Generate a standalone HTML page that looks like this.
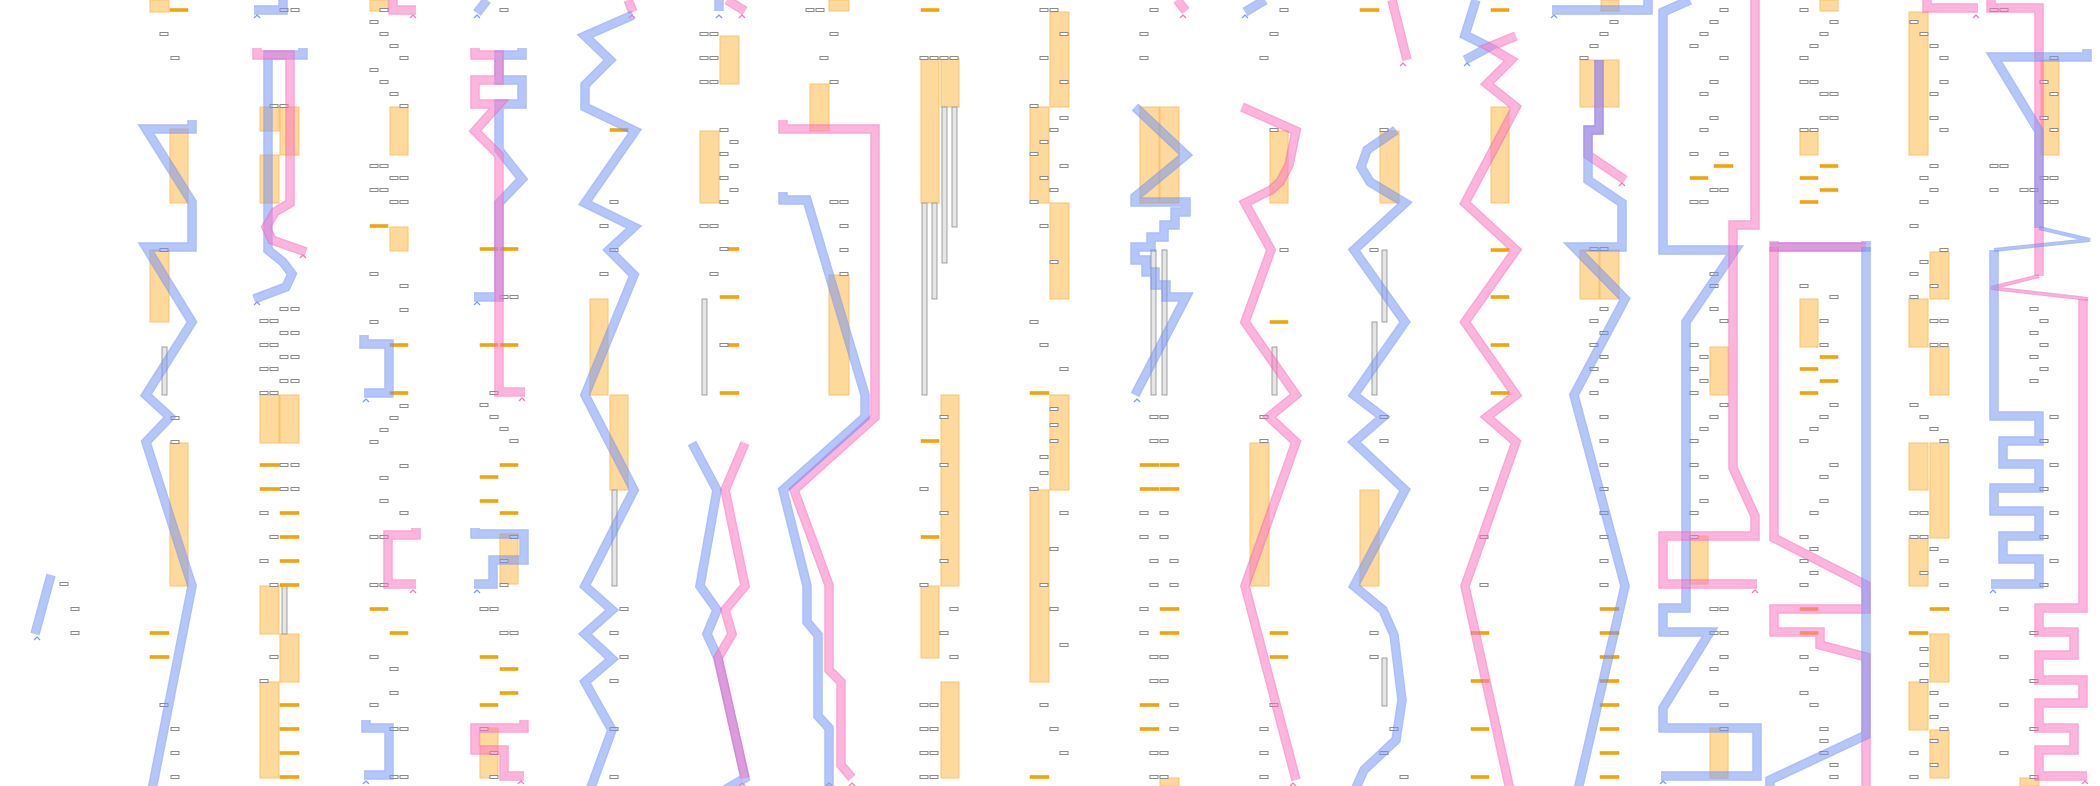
<!DOCTYPE html>
<html><head><meta charset="utf-8"><style>
html,body{margin:0;padding:0;background:#fff;width:2100px;height:786px;overflow:hidden}
svg{display:block}
</style></head><body>
<svg id="s" xmlns="http://www.w3.org/2000/svg" width="2100" height="786" viewBox="0 0 2100 786">
<g id="bg"></g><g id="fg"></g><g id="ln"></g><g id="ar"></g>
</svg>
<script>
var NS="http://www.w3.org/2000/svg";
function el(p,t,a){var e=document.createElementNS(NS,t);for(var k in a)e.setAttribute(k,a[k]);document.getElementById(p).appendChild(e);return e;}
function o(x1,y1,x2,y2){el('bg','rect',{x:x1,y:y1,width:x2-x1,height:y2-y1,fill:'#fdd797',stroke:'#f7c46f','stroke-width':1,'fill-opacity':0.95});}
function d(x1,x2,y){el('fg','rect',{x:x1,y:y-1.5,width:x2-x1,height:3,fill:'#f5a400',stroke:'#e89a00','stroke-width':0.5});}
function g(x,y){el('fg','rect',{x:x-4,y:y-1.5,width:8,height:3,fill:'#fff',stroke:'#8a8a8a','stroke-width':1});}
function G(ys,xs){ys.forEach(function(p){g(p[0],p[1]);});}
function r(x,y1,y2){el('bg','rect',{x:x,y:y1,width:5,height:y2-y1,fill:'#e6e6e6',stroke:'#8a8a8a','stroke-width':0.8});}
function L(c,pts,w){w=w||8;var s=pts.map(function(p){return p.join(',')}).join(' ');
 var col=c=='b'?['#6a8cf0','#7a98f6']:['#f060b8','#ff77c4'];
 var gg=el('ln','g',{opacity:0.55});
 var a=document.createElementNS(NS,'polyline');a.setAttribute('points',s);a.setAttribute('fill','none');a.setAttribute('stroke',col[0]);a.setAttribute('stroke-width',w+1.5);a.setAttribute('stroke-linejoin','miter');a.setAttribute('stroke-miterlimit',3);gg.appendChild(a);
 var b=document.createElementNS(NS,'polyline');b.setAttribute('points',s);b.setAttribute('fill','none');b.setAttribute('stroke',col[1]);b.setAttribute('stroke-width',Math.max(w-1.5,1));b.setAttribute('stroke-linejoin','miter');b.setAttribute('stroke-miterlimit',3);gg.appendChild(b);}
function A(c,x,y){el('ar','polyline',{points:(x-3)+','+(y+3)+' '+x+','+y+' '+(x+3)+','+(y+3),fill:'none',stroke:c=='b'?'#7f9cf2':'#f07ac4','stroke-width':1.3});}

/* Column A */
L('b',[[51,575],[35,634]]);A('b',37,637);G([[64,584],[75,609],[75,633]]);
/* Column B */
o(150,0,169,12);o(170,129,188,203);o(150,250,169,322);o(170,443,188,586);
d(170,188,10);d(150,169,633);d(150,169,657);r(162,347,395);
G([[164,34],[175,58],[164,250],[175,418],[175,442],[164,705],[175,729],[175,753],[175,777]]);
L('b',[[192,120],[192,129],[146,129],[192,202],[192,247],[146,247],[192,322],[146,395],[170,417],[146,442],[192,586],[152,790]]);
/* Column C */
L('b',[[283,0],[283,10],[254,10]]);A('b',257,15);G([[284,10],[295,10]]);
o(260,107,279,131);o(280,107,299,155);o(260,155,279,203);o(260,395,279,443);o(280,395,299,443);o(260,586,279,634);o(280,634,299,682);o(260,682,279,778);
d(260,279,465);d(260,279,489);[513,537,561,585,705,729,753,777].forEach(function(y){d(280,299,y)});
r(282,586,634);
G([[274,106],[284,106],[284,309],[295,309],[264,321],[274,321],[284,333],[295,333],[264,345],[274,345],[284,357],[295,357],[264,369],[274,369],[284,381],[295,381],[264,393],[274,393],[284,465],[295,465],[284,489],[295,489],[264,513],[274,537],[264,561],[274,585],[274,657],[264,681]]);
L('b',[[303,48],[303,55],[268,55],[268,250],[283,262],[292,274],[286,287],[254,299]]);A('b',257,302);
L('p',[[257,48],[257,55],[290,55],[290,203],[275,212],[266,227],[272,240],[306,252]]);A('p',303,255);
/* Column D */
o(370,0,388,11);o(390,107,408,155);o(390,227,408,251);
d(370,388,226);d(390,408,345);d(390,408,393);d(370,388,609);d(390,408,633);
G([[384,10],[374,22],[384,34],[394,46],[404,58],[374,70],[384,82],[394,94],[404,106],[374,166],[384,166],[394,178],[404,178],[374,190],[384,190],[394,202],[404,202],[374,274],[404,286],[404,310],[374,322],[404,406],[394,418],[384,430],[374,442],[404,466],[384,478],[384,501],[404,513],[374,537],[384,537],[374,585],[384,585],[374,657],[394,669],[394,693],[374,705],[394,729],[404,729],[394,777],[404,777]]);
L('p',[[393,0],[393,10],[416,10]]);A('p',413,15);
L('b',[[364,335],[364,344],[389,344],[389,393],[364,393]]);A('b',366,399);
L('p',[[416,528],[416,535],[388,535],[388,584],[416,584]]);A('p',413,590);
L('b',[[366,720],[366,728],[389,728],[389,775],[364,775]]);A('b',366,781);
/* Column E */
L('b',[[487,0],[477,13]]);A('b',477,15);g(504,10);
o(500,534,518,584);o(480,728,498,778);
d(480,498,249);d(500,518,249);d(480,498,345);d(500,518,345);
d(500,518,465);d(480,498,477);d(480,498,501);d(500,518,513);d(480,498,657);d(500,518,669);d(500,518,693);d(480,498,705);
G([[504,297],[514,297],[494,393],[484,405],[494,417],[504,429],[514,441],[514,537],[504,561],[504,585],[484,609],[494,609],[504,633],[514,633],[484,729],[494,753],[494,777]]);
L('b',[[522,48],[522,55],[499,55],[499,80],[522,80],[522,104],[499,104],[499,150],[522,179],[499,203],[499,297],[474,297]]);A('b',477,302);
L('p',[[475,48],[475,55],[499,55],[499,80],[475,80],[475,104],[499,104],[475,131],[499,155],[499,392],[525,392]]);A('p',522,398);
L('b',[[475,528],[475,534],[524,534],[524,560],[493,560],[493,584],[474,584]]);A('b',477,590);
L('p',[[524,720],[524,728],[475,728],[475,750],[504,750],[504,776],[524,776]]);A('p',521,781);
/* Column F */
o(590,299,608,395);o(610,395,628,490);d(610,628,130);r(612,490,586);
G([[614,202],[604,226],[614,250],[604,274],[624,609],[614,633],[624,657],[614,681],[614,729],[614,777]]);
L('p',[[628,0],[633,12]]);A('p',632,15);
L('b',[[633,15],[585,36],[610,60],[585,85],[585,107],[635,131],[585,203],[634,227],[609,250],[634,275],[585,395],[634,490],[585,586],[612,610],[585,634],[612,659],[585,682],[612,730],[590,790]]);
/* Column G */
L('b',[[719,0],[719,11]]);A('b',719,15);L('p',[[727,0],[745,11]]);A('p',742,15);
o(720,36,739,84);o(700,131,719,203);r(702,299,395);
G([[704,34],[714,34],[704,58],[714,58],[704,82],[714,82],[724,130],[734,142],[724,154],[734,166],[724,178],[734,190],[724,202],[704,226],[714,226],[714,274]]);
d(720,739,249);d(720,739,297);d(720,739,345);d(720,739,393);g(724,249);g(724,345);
L('b',[[692,443],[717,490],[700,586],[717,610],[707,634],[718,658],[745,778],[725,790]]);
L('p',[[745,443],[725,490],[745,586],[725,610],[732,634],[718,658],[745,778]]);A('p',742,783);
/* Column H */
o(829,0,849,11);o(810,84,829,131);o(829,275,849,395);
G([[810,10],[820,10],[834,34],[824,58],[834,82],[834,202],[844,202],[844,226],[844,250],[844,274]]);
L('p',[[783,120],[783,129],[875,129],[875,417],[794,490],[829,585],[829,670],[841,682],[841,765],[852,778]]);A('p',852,783);
L('b',[[783,192],[783,200],[807,200],[865,395],[865,417],[783,490],[807,586],[807,622],[818,635],[818,716],[829,728],[829,786]]);A('b',829,783);
/* Column I */
d(921,939,10);o(921,58,939,203);o(941,58,959,107);r(922,203,395);r(932,203,299);r(942,107,263);r(952,107,227);
G([[924,58],[934,58],[944,58],[954,58],[944,417],[924,489],[944,465],[944,513],[944,561],[924,585],[954,609],[944,633],[954,657],[924,705],[934,705],[924,729],[934,729],[924,753],[934,753],[924,777],[934,777]]);
o(941,395,959,586);d(921,939,441);d(921,939,537);o(921,586,939,658);o(941,682,959,778);
/* Column J */
o(1050,12,1069,107);o(1030,107,1049,203);o(1050,203,1069,299);o(1050,395,1069,490);o(1030,490,1049,682);
d(1030,1049,393);d(1030,1049,777);
G([[1044,10],[1054,10],[1064,34],[1044,58],[1064,82],[1034,106],[1064,118],[1054,130],[1044,142],[1034,154],[1064,166],[1044,178],[1054,190],[1034,202],[1044,226],[1054,262],[1034,322],[1044,345],[1064,369],[1054,409],[1054,425],[1054,441],[1044,457],[1044,473],[1034,489],[1064,513],[1054,549],[1044,585],[1054,609],[1064,645],[1044,705],[1054,729],[1064,753]]);
/* Column K */
o(1140,107,1159,203);o(1160,107,1179,203);r(1151,250,395);r(1162,250,395);o(1160,778,1179,786);
G([[1154,10],[1144,34],[1144,58],[1154,417],[1164,417],[1154,441],[1164,441],[1144,513],[1164,513],[1144,537],[1164,537],[1154,561],[1174,561],[1154,585],[1174,585],[1144,609],[1144,633],[1154,657],[1164,657],[1154,681],[1164,681],[1174,705],[1174,729],[1154,753],[1164,753],[1154,777],[1164,777]]);
d(1140,1159,465);d(1160,1179,465);d(1140,1159,489);d(1160,1179,489);d(1160,1179,609);d(1160,1179,633);d(1140,1159,705);d(1140,1159,729);
L('b',[[1135,107],[1186,155],[1135,197],[1135,202],[1186,202],[1186,212],[1175,212],[1175,225],[1164,225],[1164,237],[1151,237],[1151,247],[1135,247],[1135,260],[1146,260],[1146,272],[1155,272],[1155,285],[1166,285],[1166,297],[1186,297],[1135,395]]);A('b',1137,399);
/* Column L */
L('b',[[1265,0],[1245,12]]);A('b',1245,15);L('p',[[1177,0],[1186,11]]);A('p',1183,15);
G([[1284,10],[1274,34],[1264,58],[1274,130],[1284,250],[1264,417],[1264,441],[1274,705],[1264,729],[1264,753],[1264,777]]);
o(1270,131,1288,203);d(1270,1288,322);r(1272,347,395);o(1250,443,1269,586);d(1270,1288,633);d(1270,1288,657);
L('p',[[1242,107],[1296,131],[1289,165],[1280,182],[1271,190],[1245,203],[1271,250],[1245,322],[1296,395],[1269,417],[1296,442],[1245,586],[1296,780]]);A('p',1293,783);
/* Column M */
d(1360,1379,10);o(1380,131,1399,203);o(1360,490,1379,586);r(1382,250,322);r(1372,322,395);r(1382,658,706);
G([[1384,130],[1374,250],[1384,417],[1384,441],[1374,633],[1374,657],[1394,729],[1384,753],[1404,777]]);
L('p',[[1392,0],[1407,60]]);A('p',1403,63);
L('b',[[1396,130],[1367,150],[1361,167],[1370,182],[1405,203],[1354,250],[1405,322],[1354,395],[1383,417],[1354,442],[1405,490],[1354,586],[1383,610],[1394,635],[1402,700],[1396,740],[1364,770],[1355,790]]);
/* Column N */
L('b',[[1476,0],[1465,35],[1489,47],[1465,60]]);A('b',1467,63);
o(1491,107,1509,203);[10,250,297,345,393].forEach(function(y){d(1491,1509,y)});[633,681,729,777].forEach(function(y){d(1471,1489,y)});
G([[1484,441],[1484,489],[1484,537],[1484,585]]);
L('p',[[1516,36],[1489,47],[1511,60],[1487,84],[1516,107],[1465,203],[1516,250],[1465,322],[1516,395],[1487,417],[1516,442],[1465,586],[1510,790]]);
/* Column O */
o(1601,0,1619,11);o(1580,60,1619,107);o(1580,250,1599,299);o(1600,250,1619,299);
G([[1614,22],[1604,34],[1594,46],[1584,58],[1594,249],[1604,249],[1604,309],[1594,321],[1604,333],[1594,345],[1604,357],[1594,369],[1604,381],[1594,393],[1604,417],[1604,441],[1604,465],[1604,489],[1604,513],[1604,537],[1604,561],[1604,585]]);
[609,633,657,681,705,729,753,777].forEach(function(y){d(1600,1619,y)});
L('b',[[1648,0],[1648,10],[1552,10]]);A('b',1554,15);
L('p',[[1599,60],[1599,130],[1588,130],[1588,155],[1625,180]]);A('p',1622,183);
L('b',[[1599,60],[1599,130],[1588,130],[1588,180],[1622,203],[1622,247],[1574,247],[1625,299],[1574,395],[1625,586],[1578,790]]);
/* Column P */
o(1710,347,1728,395);o(1690,536,1708,584);o(1710,728,1728,778);
d(1714,1733,166);d(1690,1708,178);
G([[1724,10],[1714,22],[1704,34],[1694,46],[1724,58],[1714,82],[1704,94],[1714,118],[1704,130],[1694,154],[1724,154],[1714,190],[1724,190],[1694,202],[1704,202],[1714,274],[1714,286],[1714,309],[1724,321],[1694,345],[1704,357],[1694,369],[1704,381],[1694,393],[1724,405],[1714,417],[1704,429],[1694,441],[1694,465],[1704,477],[1704,501],[1694,513],[1694,537],[1714,609],[1724,609],[1714,633],[1724,633],[1724,657],[1714,669],[1714,693],[1724,705],[1724,729]]);
L('b',[[1690,0],[1663,12],[1663,250],[1735,250],[1686,322],[1686,608],[1663,608],[1663,632],[1710,632],[1663,708],[1663,728],[1757,728],[1757,776],[1661,776]]);A('b',1663,781);
L('p',[[1755,0],[1755,225],[1733,225],[1733,468],[1755,516],[1755,536],[1663,536],[1663,584],[1757,584]]);A('p',1755,590);
/* Column Q */
o(1820,0,1838,11);o(1800,131,1818,155);o(1800,299,1818,347);
d(1820,1838,166);d(1820,1838,190);d(1800,1818,178);d(1800,1818,202);d(1820,1838,357);d(1820,1838,381);d(1800,1818,369);d(1800,1818,393);d(1800,1818,609);d(1800,1818,633);
G([[1804,10],[1834,22],[1824,34],[1814,46],[1804,58],[1804,82],[1814,82],[1824,94],[1834,94],[1824,118],[1834,118],[1804,130],[1814,130],[1804,286],[1834,297],[1824,321],[1824,345],[1834,405],[1824,417],[1814,429],[1804,441],[1834,465],[1824,477],[1824,501],[1814,513],[1804,537],[1814,549],[1804,561],[1814,573],[1804,585],[1804,657],[1814,669],[1804,693],[1814,705],[1824,729],[1824,741],[1824,753],[1834,765],[1834,777]]);
L('b',[[1866,241],[1866,247],[1770,247]]);
L('p',[[1774,241],[1774,247],[1866,247]]);
L('p',[[1774,247],[1774,538],[1866,585],[1866,609],[1774,609],[1774,632],[1820,632],[1820,645],[1866,657],[1866,786]]);
L('b',[[1866,247],[1866,735],[1770,780],[1770,790]]);
/* Column R */
L('p',[[1927,0],[1927,8],[1978,8]]);A('p',1976,15);
o(1909,12,1928,155);o(1930,252,1949,299);o(1909,299,1928,347);o(1930,347,1949,395);o(1909,443,1928,490);o(1930,443,1949,538);o(1909,538,1928,586);o(1930,634,1949,682);o(1909,682,1928,730);o(1930,730,1949,778);
d(1930,1949,609);d(1909,1928,633);
G([[1914,22],[1924,34],[1934,46],[1944,58],[1944,82],[1934,94],[1934,118],[1944,130],[1934,166],[1924,178],[1934,190],[1924,202],[1914,226],[1944,250],[1924,262],[1914,274],[1934,286],[1914,297],[1934,321],[1944,321],[1934,345],[1944,345],[1914,405],[1924,417],[1934,429],[1944,441],[1914,513],[1924,513],[1914,537],[1924,537],[1934,549],[1944,561],[1924,573],[1944,585],[1924,649],[1924,665],[1924,681],[1934,693],[1944,705],[1934,717],[1944,729],[1934,741],[1914,753],[1934,765],[1914,777]]);
/* Column S */
o(2041,60,2059,155);o(2020,778,2039,786);
G([[1994,10],[2004,10],[2054,58],[2044,82],[2054,94],[2044,118],[2054,130],[1994,166],[2004,166],[2044,178],[2054,178],[1994,190],[2024,190],[2034,190],[2044,202],[2054,202],[2034,309],[2044,321],[2034,333],[2044,345],[2034,357],[2044,369],[2034,381],[2054,417],[2044,441],[2054,465],[2044,489],[2054,513],[2044,537],[2054,561],[2044,585],[2004,609],[2034,633],[2004,657],[2034,681],[2004,705],[2034,729],[2004,753],[2034,777]]);
L('p',[[1991,0],[1991,8],[2039,8],[2039,276]]);
L('p',[[2039,276],[1991,288],[2088,299]],2.5);
L('p',[[2083,299],[2083,608],[2039,608],[2039,632],[2074,632],[2074,655],[2039,655],[2039,680],[2083,680],[2083,703],[2039,703],[2039,728],[2074,728],[2074,750],[2039,750],[2039,776],[2087,776]]);A('p',2085,781);
L('b',[[2087,49],[2087,57],[1994,57],[2039,131],[2039,228]]);
L('b',[[2039,228],[2090,240],[1994,250]],2.5);
L('b',[[1994,250],[1994,416],[2039,416],[2039,441],[2003,441],[2003,464],[2039,464],[2039,488],[1994,488],[1994,511],[2039,511],[2039,536],[2003,536],[2003,559],[2039,559],[2039,584],[1991,584]]);A('b',1993,590);
</script>
</body></html>
